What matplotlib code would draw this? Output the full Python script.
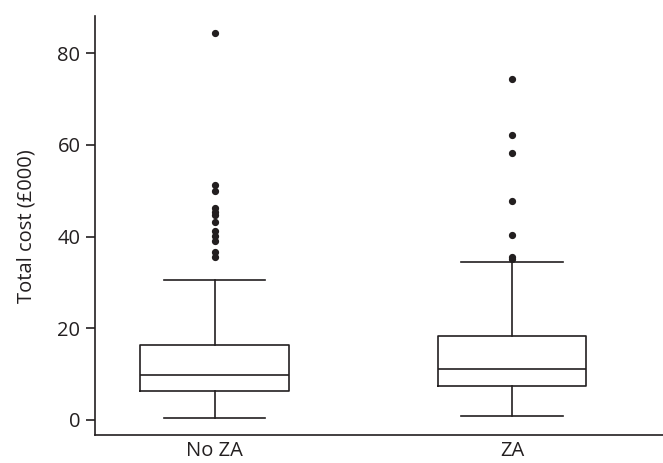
import matplotlib
matplotlib.use('Agg')
import matplotlib.pyplot as plt

# ── data (£000) ─────────────────────────────────────────────────────────────
groups = ['No ZA', 'ZA']
whislo = [0.4, 0.8]
q1 = [6.25, 7.5]
med = [9.7, 11.1]
q3 = [16.4, 18.4]
whishi = [30.5, 34.5]
fliers_noza = [84.3, 51.3, 50.0, 46.2, 45.4, 44.6, 43.2, 41.1, 40.1, 39.1, 36.6, 35.6]
fliers_za = [74.3, 62.2, 58.2, 47.7, 40.3, 35.6, 35.2]
fliers = [fliers_noza, fliers_za]

INK = '#231f20'
plt.rcParams['font.family'] = ['Open Sans', 'DejaVu Sans']

stats = [dict(label=g, whislo=lo, q1=a, med=m, q3=b, whishi=hi, fliers=f)
         for g, lo, a, m, b, hi, f in zip(groups, whislo, q1, med, q3, whishi, fliers)]

fig = plt.figure(figsize=(6.63, 4.63), dpi=100)
ax = fig.add_axes([0.1433, 0.0594, 0.8567, 0.906])

lw = 1.2
ax.bxp(stats, positions=[0, 1], widths=0.5, capwidths=0.34,
       boxprops=dict(color=INK, linewidth=lw),
       whiskerprops=dict(color=INK, linewidth=lw),
       capprops=dict(color=INK, linewidth=lw),
       medianprops=dict(color=INK, linewidth=lw),
       flierprops=dict(marker='o', markerfacecolor=INK, markeredgecolor=INK,
                       markersize=4.2, linestyle='none'))

ax.set_xlim(-0.403, 1.508)
ax.set_ylim(-3.4, 88.1)
ax.set_yticks([0, 20, 40, 60, 80])
ax.set_xticks([0, 1])
ax.set_xticklabels(groups)

for s in ('top', 'right'):
    ax.spines[s].set_visible(False)
for s in ('left', 'bottom'):
    ax.spines[s].set_color(INK)
    ax.spines[s].set_linewidth(lw)

ax.tick_params(axis='y', length=6.5, width=lw, color=INK, labelsize=14.5,
               labelcolor=INK, pad=4)
ax.tick_params(axis='x', length=0, labelsize=14.5, labelcolor=INK, pad=4)
ax.set_ylabel('Total cost (£000)', fontsize=14.5, color=INK, labelpad=15)

fig.savefig('out.png', dpi=100, facecolor='white')
plt.close(fig)
